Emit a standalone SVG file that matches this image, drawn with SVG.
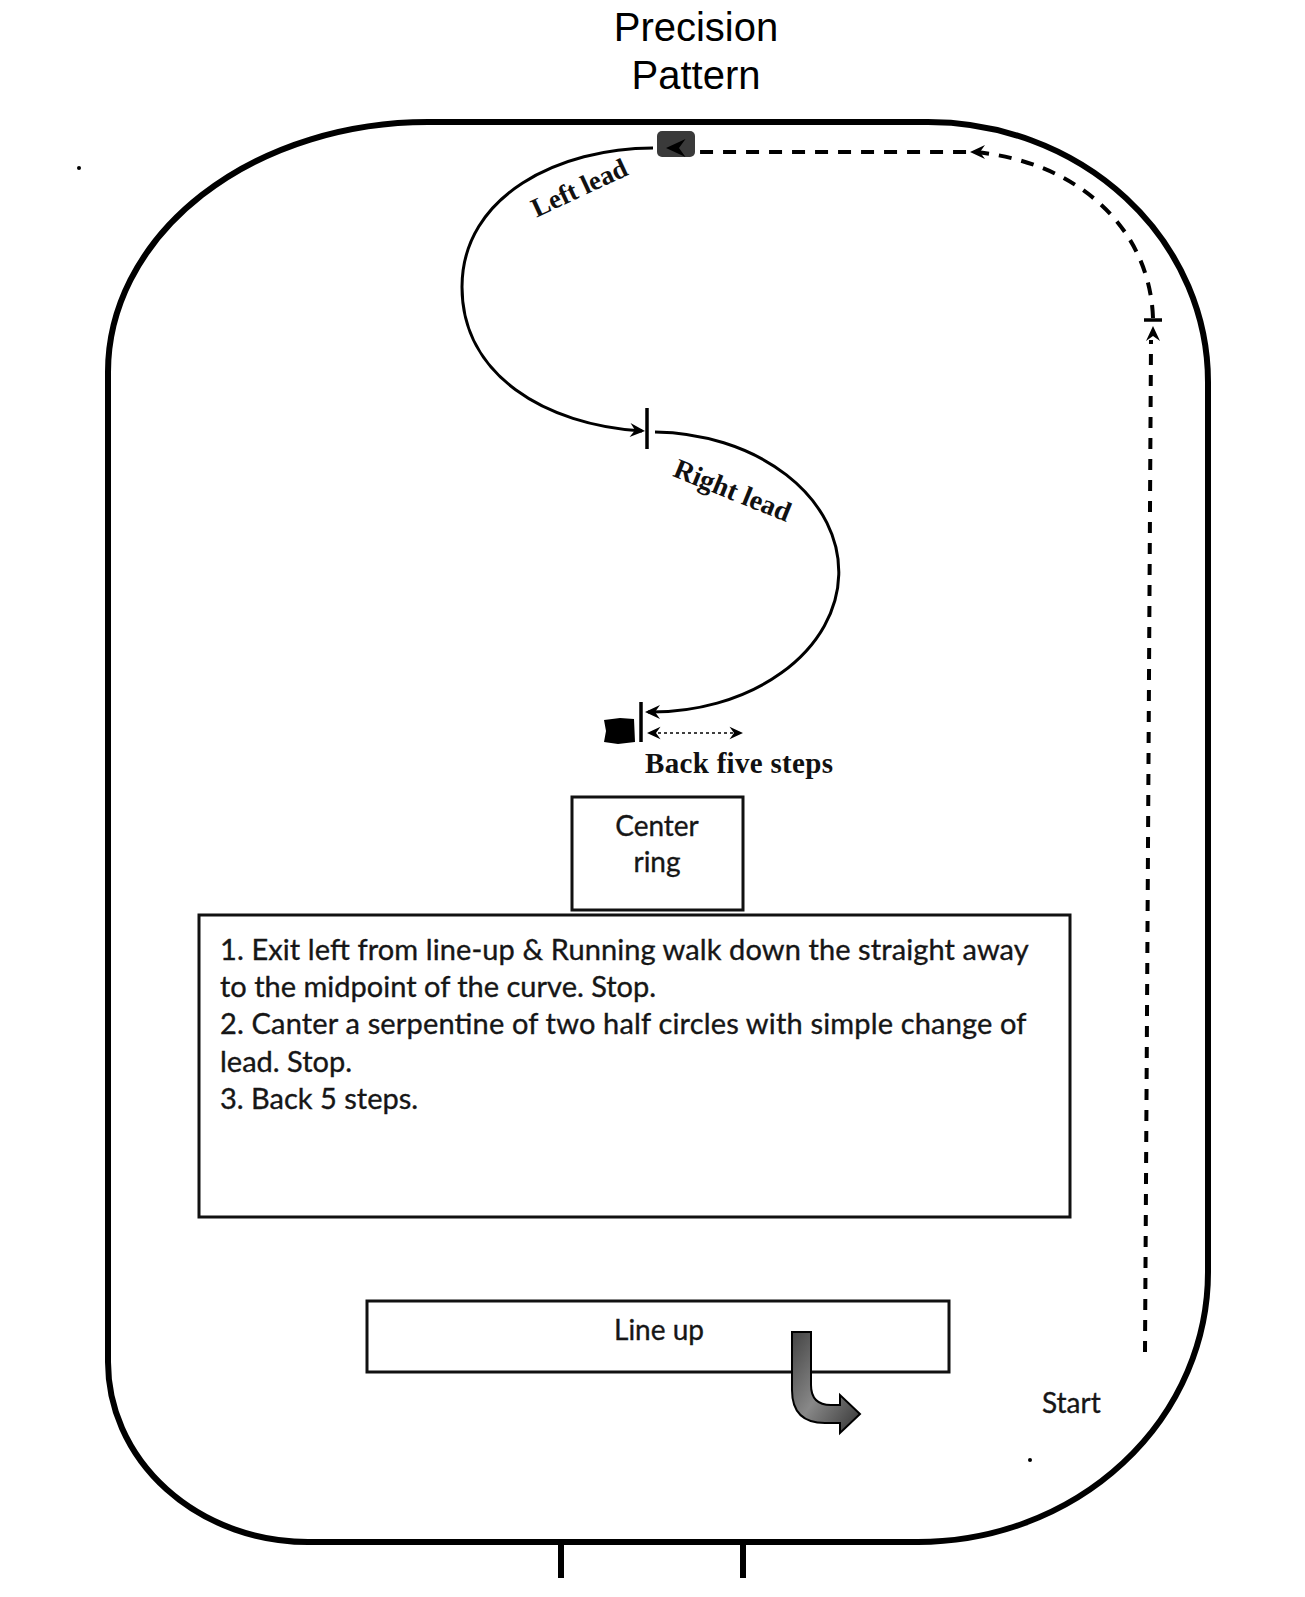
<svg xmlns="http://www.w3.org/2000/svg" width="1305" height="1597" viewBox="0 0 1305 1597">
<style>
.arena{fill:none;stroke:#000;stroke-width:6}
.box{fill:#fff;stroke:#111;stroke-width:3}
.path{fill:none;stroke:#000;stroke-width:3}
.dash{fill:none;stroke:#000;stroke-width:4}
.tick{stroke:#000;stroke-width:3.5}
.ah{fill:#000}
.sans{font-family:"Liberation Sans",Arial,sans-serif;fill:#000}
.cal{font-family:Lato,"Open Sans",sans-serif;fill:#161616;stroke:#161616;stroke-width:0.35}
.ser{font-family:"Liberation Serif","Times New Roman",serif;font-weight:bold;fill:#111}
</style>
<defs>
<path id="ah" d="M0 0 L-15 -7 L-10 0 L-15 7 Z"/>
<linearGradient id="g" x1="0" y1="0" x2="1" y2="1">
<stop offset="0" stop-color="#444"/><stop offset="0.5" stop-color="#888"/><stop offset="1" stop-color="#333"/>
</linearGradient>
</defs>
<rect width="1305" height="1597" fill="#fff"/>

<g id="title">
<text class="sans" x="696" y="41" font-size="40" text-anchor="middle">Precision</text>
<text class="sans" x="696" y="89" font-size="40" text-anchor="middle">Pattern</text>
</g>

<g id="arena">
<path class="arena" d="M428 122 H928 A280 260 0 0 1 1208 382 V1272 A290 270 0 0 1 918 1542 H308 A200 180 0 0 1 108 1362 V372 A320 250 0 0 1 428 122 Z"/>
<line x1="561" y1="1543" x2="561" y2="1578" stroke="#000" stroke-width="6"/>
<line x1="743" y1="1543" x2="743" y2="1578" stroke="#000" stroke-width="6"/>
</g>

<g id="connectors">
<path class="dash" d="M1145 1352 L1151 340" stroke-dasharray="11 10"/>
<path class="dash" d="M1153 318 C1150 230 1080 162 975 152 H697" stroke-width="3.5" stroke-dasharray="13 10"/>
<line class="tick" x1="1144" y1="320" x2="1162" y2="320" stroke-width="3"/>
<use href="#ah" class="ah" transform="translate(1153 326) rotate(-90)"/>
<use href="#ah" class="ah" transform="translate(970 152) rotate(180)"/>

<path class="path" d="M653 148 C560 148 462 195 462 287 C462 375 545 425 642 431"/>
<path class="path" d="M655 432 A186 139 0 0 1 648 712"/>
<line class="tick" x1="647" y1="408" x2="647" y2="449"/>
<line class="tick" x1="641" y1="702" x2="641" y2="742"/>
<use href="#ah" class="ah" transform="translate(645 431) rotate(4)"/>
<use href="#ah" class="ah" transform="translate(645 712) rotate(180)"/>

<line x1="652" y1="733" x2="738" y2="733" stroke="#000" stroke-width="1.5" stroke-dasharray="3 3"/>
<use href="#ah" class="ah" transform="translate(647 733) rotate(180) scale(0.9)"/>
<use href="#ah" class="ah" transform="translate(743 733) scale(0.9)"/>
</g>

<g id="labels">
<text class="ser" font-size="27" text-anchor="middle" transform="translate(583 196) rotate(-25)">Left lead</text>
<text class="ser" font-size="28" text-anchor="middle" transform="translate(729 499) rotate(22)">Right lead</text>
<text class="ser" x="645" y="773" font-size="29" textLength="188">Back five steps</text>
<text class="cal" x="1042" y="1413" font-size="28">Start</text>
</g>

<g id="marker-top">
<rect x="657" y="131" width="38" height="26" rx="5" fill="#3a3a3a"/>
<use href="#ah" transform="translate(666 148) rotate(180) scale(1.3)" fill="#000"/>
</g>

<g id="marker-stop">
<path d="M604 720 L620 718 L634 719 L635 742 L618 744 L604 742 L606 731 Z" fill="#000"/>
</g>

<g id="center-ring">
<rect class="box" x="572" y="797" width="171" height="113"/>
<text class="cal" x="657" y="836" font-size="28" text-anchor="middle">Center</text>
<text class="cal" x="657" y="872" font-size="28" text-anchor="middle">ring</text>
</g>

<g id="instructions">
<rect class="box" x="199" y="915" width="871" height="302"/>
<text class="cal" font-size="29">
<tspan x="220" y="960" textLength="808">1. Exit left from line-up &amp; Running walk down the straight away</tspan>
<tspan x="220" y="997">to the midpoint of the curve. Stop.</tspan>
<tspan x="220" y="1034" textLength="806">2. Canter a serpentine of two half circles with simple change of</tspan>
<tspan x="220" y="1072">lead. Stop.</tspan>
<tspan x="220" y="1109">3. Back 5 steps.</tspan>
</text>
</g>

<g id="line-up">
<rect class="box" x="367" y="1301" width="582" height="71" fill="none"/>
<text class="cal" x="659" y="1340" font-size="28" text-anchor="middle">Line up</text>
</g>

<g id="exit-arrow">
<path d="M792 1332 H811 V1385 Q811 1405 831 1405 H840 V1395 L860 1414 L840 1433 V1423 H825 Q792 1423 792 1390 Z" fill="url(#g)" stroke="#000" stroke-width="2"/>
</g>

<circle cx="79" cy="168" r="2" fill="#000"/>
<circle cx="1030" cy="1460" r="2" fill="#000"/>
</svg>
